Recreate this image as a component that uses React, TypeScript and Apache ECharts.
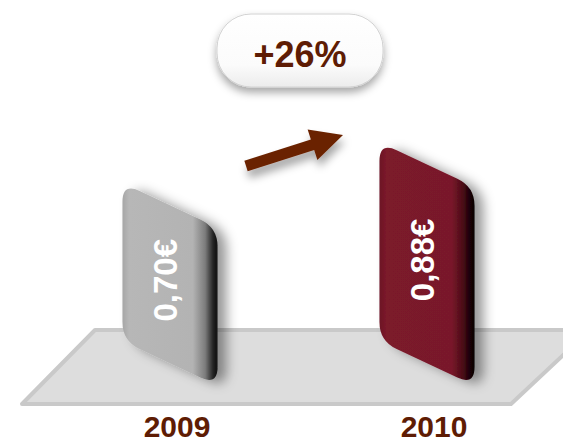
import React, { useEffect, useRef } from "react";
import * as echarts from "echarts";

const categories = ["2009", "2010"];
const values = [0.7, 0.88];
const valueLabels = ["0,70€", "0,88€"];
const changeLabel = "+26%";

const BROWN = "#5e1c04";
const FONT = "'Liberation Sans', Arial, sans-serif";
const NARROW = "'Liberation Sans Narrow', 'Arial Narrow', sans-serif";

const barGradients = [
  [
    { offset: 0, color: "#a6a6a6" },
    { offset: 0.07, color: "#b7b7b7" },
    { offset: 0.74, color: "#b3b3b3" },
    { offset: 0.87, color: "#7c7c7c" },
    { offset: 0.95, color: "#262626" },
    { offset: 1, color: "#0d0d0d" },
  ],
  [
    { offset: 0, color: "#6c1424" },
    { offset: 0.07, color: "#7b1a2b" },
    { offset: 0.76, color: "#79192a" },
    { offset: 0.88, color: "#4a0a16" },
    { offset: 0.95, color: "#1a0207" },
    { offset: 1, color: "#0a0003" },
  ],
];

function roundedPolyPath(pts: number[][], r: number): string {
  const n = pts.length;
  let d = "";
  for (let i = 0; i < n; i++) {
    const prev = pts[(i - 1 + n) % n];
    const cur = pts[i];
    const next = pts[(i + 1) % n];
    const v1 = [prev[0] - cur[0], prev[1] - cur[1]];
    const v2 = [next[0] - cur[0], next[1] - cur[1]];
    const l1 = Math.hypot(v1[0], v1[1]);
    const l2 = Math.hypot(v2[0], v2[1]);
    const rr1 = Math.min(r, l1 / 2);
    const rr2 = Math.min(r, l2 / 2);
    const a = [cur[0] + (v1[0] / l1) * rr1, cur[1] + (v1[1] / l1) * rr1];
    const b = [cur[0] + (v2[0] / l2) * rr2, cur[1] + (v2[1] / l2) * rr2];
    d += (i === 0 ? "M" : "L") + a[0].toFixed(2) + " " + a[1].toFixed(2);
    d += "Q" + cur[0].toFixed(2) + " " + cur[1].toFixed(2) + " " + b[0].toFixed(2) + " " + b[1].toFixed(2);
  }
  return d + "Z";
}

function arrowPoints(tail: number[], tip: number[], shaftHalf: number, headLen: number, headHalf: number) {
  const dx = tip[0] - tail[0];
  const dy = tip[1] - tail[1];
  const L = Math.hypot(dx, dy);
  const u = [dx / L, dy / L];
  const nrm = [-u[1], u[0]];
  const B = [tip[0] - u[0] * headLen, tip[1] - u[1] * headLen];
  const p = (c: number[], k: number) => [c[0] + nrm[0] * k, c[1] + nrm[1] * k];
  return [p(tail, shaftHalf), p(B, shaftHalf), p(B, headHalf), tip, p(B, -headHalf), p(B, -shaftHalf), p(tail, -shaftHalf)];
}

export default function App() {
  const ref = useRef<HTMLDivElement>(null);
  useEffect(() => {
    if (!ref.current) return;
    const chart = echarts.init(ref.current, null, { renderer: "svg" });
    const option: any = {
      animation: false,
      backgroundColor: "#ffffff",
      grid: { left: 41.5, width: 514, top: 115, bottom: 93 },
      xAxis: {
        type: "category",
        data: categories,
        axisLine: { show: false },
        axisTick: { show: false },
        splitLine: { show: false },
        axisLabel: {
          margin: 70,
          fontSize: 30,
          fontWeight: "bold",
          fontFamily: FONT,
          color: BROWN,
          padding: [0, 0, 0, 14],
        },
      },
      yAxis: { type: "value", min: 0, max: 1, show: false },
      graphic: [
        {
          type: "polygon",
          z: 0,
          shape: { points: [[95, 330], [590, 330], [511, 404], [22, 404]] },
          style: { fill: "#dddddd", stroke: "#c9c9c9", lineWidth: 4, lineJoin: "round" },
        },
        {
          type: "polygon",
          z: 5,
          shape: { points: arrowPoints([246, 166], [343, 135], 5.5, 32, 16) },
          style: { fill: "#6b2402", shadowBlur: 8, shadowOffsetX: 2, shadowOffsetY: 7, shadowColor: "rgba(0,0,0,0.35)" },
        },
        {
          type: "rect",
          z: 5,
          shape: { x: 217, y: 14, width: 166, height: 73, r: 34 },
          style: {
            fill: new echarts.graphic.LinearGradient(0, 0, 0, 1, [
              { offset: 0, color: "#ffffff" },
              { offset: 0.7, color: "#fbfbfb" },
              { offset: 1, color: "#ececec" },
            ]),
            stroke: "#d2d2d2",
            lineWidth: 1,
            shadowBlur: 8,
            shadowOffsetY: 5,
            shadowColor: "rgba(0,0,0,0.35)",
          },
        },
        {
          type: "text",
          z: 6,
          x: 300,
          y: 54,
          style: {
            text: changeLabel,
            font: "bold 36px " + FONT,
            fill: BROWN,
            align: "center",
            verticalAlign: "middle",
          },
        },
      ],
      series: [
        {
          type: "custom",
          z: 10,
          data: values.map((v, i) => [i, v]),
          encode: { x: 0, y: 1 },
          renderItem: (params: any, api: any) => {
            const i = params.dataIndex;
            const top = api.coord([api.value(0), api.value(1)]);
            const base = api.coord([api.value(0), 0]);
            const band = api.size([1, 0])[0];
            const w = band * 0.37;
            const skew = w * 0.47;
            const xl = top[0] - w / 2;
            const xr = top[0] + w / 2;
            const pts = [
              [xl, top[1]],
              [xr, top[1] + skew],
              [xr, base[1] + skew],
              [xl, base[1]],
            ];
            const mid = (top[1] + base[1]) / 2 + skew / 2;
            return {
              type: "group",
              children: [
                {
                  type: "path",
                  shape: { pathData: roundedPolyPath(pts, 19) },
                  style: {
                    fill: new echarts.graphic.LinearGradient(0, 0, 1, 0, barGradients[i]),
                    shadowBlur: 12,
                    shadowOffsetX: 9,
                    shadowOffsetY: 3,
                    shadowColor: "rgba(0,0,0,0.4)",
                  },
                },
                {
                  type: "text",
                  x: top[0] - 5,
                  y: mid - 4,
                  rotation: Math.PI / 2,
                  style: {
                    text: valueLabels[i],
                    font: "bold 33px " + NARROW,
                    fill: "#ffffff",
                    align: "center",
                    verticalAlign: "middle",
                  },
                },
              ],
            };
          },
        },
      ],
    };
    chart.setOption(option);
    return () => chart.dispose();
  }, []);
  return <div ref={ref} style={{ position: "fixed", left: 0, top: 0, width: 563, height: 441 }} />;
}
